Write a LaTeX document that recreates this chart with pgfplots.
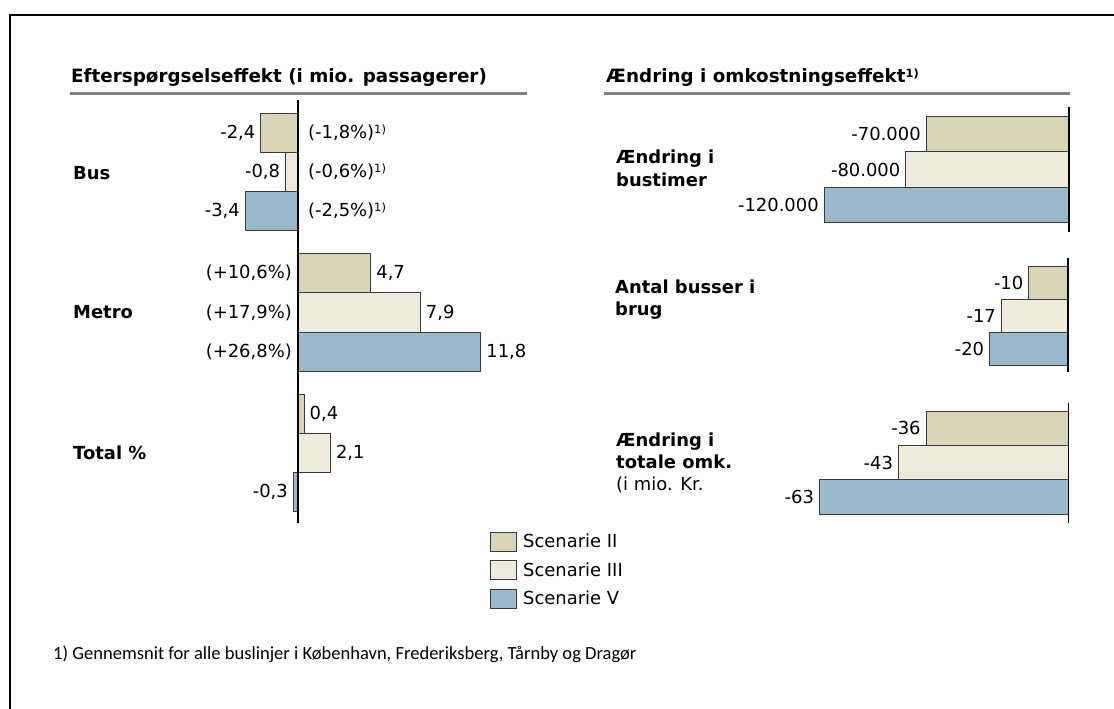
\documentclass[border=0pt]{standalone}
\usepackage{fontspec}
\setmainfont{DejaVu Sans}
\newfontfamily\notefont{Carlito}
\usepackage{pgfplots}
\pgfplotsset{compat=1.18}

\definecolor{scenII}{HTML}{D9D4B7}
\definecolor{scenIII}{HTML}{EEEBDC}
\definecolor{scenV}{HTML}{9AB9CA}
\definecolor{bardraw}{HTML}{3A3A3A}
\definecolor{rulegray}{HTML}{7F7F7F}

\newcommand\lbl{\fontsize{18}{22}\selectfont}
\newcommand\ttl{\fontsize{18.4}{22}\selectfont\bfseries}
\newcommand\fn{\raisebox{5bp}{\fontsize{11.5}{11.5}\selectfont 1)}}

\pgfplotsset{
  valbar/.style={xbar, bar shift=0pt, draw=bardraw, line width=1bp,
    nodes near coords, nodes near coords align={horizontal}, point meta=x},
  panel/.style={scale only axis, hide axis, clip=false, anchor=south west,
    every node near coord/.append style={font=\lbl, text=black, inner sep=5bp}},
}

\begin{document}
\begin{tikzpicture}
\path[use as bounding box] (0,0) rectangle (1114bp,709bp);
\draw[line width=2bp] (10bp,-2bp) -- (10bp,694bp) -- (1116bp,694bp);

% titles and rules
\node[anchor=base west, inner sep=0pt, font=\ttl] at (71bp,626bp)
  {Efterspørgselseffekt (i mio. passagerer)};
\node[anchor=base west, inner sep=0pt, font=\ttl] at (606bp,626bp)
  {Ændring i omkostningseffekt\raisebox{5bp}{\fontsize{11.5}{11.5}\selectfont 1)}};
\draw[rulegray, line width=3bp] (70bp,615bp) -- (527bp,615bp);
\draw[rulegray, line width=3bp] (604bp,615bp) -- (1070bp,615bp);

% category labels
\node[anchor=west, inner sep=0pt, font=\lbl\bfseries] at (73bp,536bp) {Bus};
\node[anchor=west, inner sep=0pt, font=\lbl\bfseries] at (73bp,396.5bp) {Metro};
\node[anchor=west, inner sep=0pt, font=\lbl\bfseries] at (73bp,256bp) {Total \%};
\node[anchor=base west, inner sep=0pt, font=\lbl\bfseries] at (616bp,545.5bp) {Ændring i};
\node[anchor=base west, inner sep=0pt, font=\lbl\bfseries] at (616bp,522bp) {bustimer};
\node[anchor=base west, inner sep=0pt, font=\lbl\bfseries] at (615bp,415bp) {Antal busser i};
\node[anchor=base west, inner sep=0pt, font=\lbl\bfseries] at (615bp,393bp) {brug};
\node[anchor=base west, inner sep=0pt, font=\lbl\bfseries] at (616bp,262bp) {Ændring i};
\node[anchor=base west, inner sep=0pt, font=\lbl\bfseries] at (616bp,240bp) {totale omk.};
\node[anchor=base west, inner sep=0pt, font=\lbl] at (616bp,218bp) {(i mio. Kr.};

% footnote
\node[anchor=base west, inner sep=0pt, font=\notefont\fontsize{18.6}{21}\selectfont]
  at (53bp,49bp) {1)\ Gennemsnit for alle buslinjer i København, Frederiksberg, Tårnby og Dragør};

% left panel: demand effect (mio. passengers); y: Bus=3, Metro=2, Total=1, bars 0.28 apart
\begin{axis}[panel, at={(236bp,186bp)}, width=248bp, height=423bp,
  xmin=-4, xmax=12, ymin=0.5018, ymax=3.5125, bar width=0.2797,
  /pgf/number format/use comma, /pgf/number format/fixed,
  /pgf/number format/fixed zerofill, /pgf/number format/precision=1,
  /pgf/number format/assume math mode=true,
  legend style={at={(1.0222,-0.0201)}, anchor=north west, draw=none, fill=none,
    inner sep=0pt, row sep=8.5bp, font=\lbl, nodes={inner sep=0pt},
    /tikz/every odd column/.append style={column sep=6.5bp}},
  legend cell align=left,
  legend image code/.code={\draw[#1] (0bp,-9.5bp) rectangle (26bp,9.5bp);},
]
\addplot[valbar, fill=scenII] coordinates {(-2.4,3.2797) (4.7,2.2797) (0.4,1.2797)};
\addlegendentry{Scenarie II}
\addplot[valbar, fill=scenIII] coordinates {(-0.8,3) (7.9,2) (2.1,1)};
\addlegendentry{Scenarie III}
\addplot[valbar, fill=scenV] coordinates {(-3.4,2.7203) (11.8,1.7203) (-0.3,0.7203)};
\addlegendentry{Scenarie V}
% percentage changes
\addplot[draw=none, forget plot, nodes near coords, point meta=explicit symbolic,
  every node near coord/.append style={anchor=west, xshift=10bp, inner sep=0pt, font=\lbl}]
  coordinates {(0,3.2797) [(-1,8\%)\fn] (0,3) [(-0,6\%)\fn] (0,2.7203) [(-2,5\%)\fn]};
\addplot[draw=none, forget plot, nodes near coords, point meta=explicit symbolic,
  every node near coord/.append style={anchor=east, xshift=-6bp, inner sep=0pt, font=\lbl}]
  coordinates {(0,2.2797) [(+10,6\%)] (0,2) [(+17,9\%)] (0,1.7203) [(+26,8\%)]};
\draw[line width=1.3bp] (axis cs:0,0.5018) -- (axis cs:0,3.5125);
\end{axis}

% right panel: change in bus hours
\begin{axis}[panel, at={(803.8bp,477.3bp)}, width=265.2bp, height=125bp,
  xmin=-130000, xmax=0, ymin=-0.749, ymax=2.772, bar width=1,
  /pgf/number format/use comma, /pgf/number format/fixed,
  /pgf/number format/precision=0, /pgf/number format/assume math mode=true]
\addplot[valbar, fill=scenII] coordinates {(-70000,2)};
\addplot[valbar, fill=scenIII] coordinates {(-80000,1)};
\addplot[valbar, fill=scenV] coordinates {(-120000,0)};
\draw[line width=1.3bp] (axis cs:0,-0.749) -- (axis cs:0,2.772);
\end{axis}

% right panel: buses in use
\begin{axis}[panel, at={(970bp,337.3bp)}, width=98bp, height=113.7bp,
  xmin=-25, xmax=0, ymin=-0.682, ymax=2.764, bar width=1,
  /pgf/number format/fixed, /pgf/number format/precision=0,
  /pgf/number format/assume math mode=true]
\addplot[valbar, fill=scenII] coordinates {(-10,2)};
\addplot[valbar, fill=scenIII] coordinates {(-17,1)};
\addplot[valbar, fill=scenV] coordinates {(-20,0)};
\draw[line width=1.3bp] (axis cs:0,-0.682) -- (axis cs:0,2.764);
\end{axis}

% right panel: total costs (mio. kr.)
\begin{axis}[panel, at={(791.8bp,186bp)}, width=276.5bp, height=120bp,
  xmin=-70, xmax=0, ymin=-0.761, ymax=2.738, bar width=1,
  /pgf/number format/fixed, /pgf/number format/precision=0,
  /pgf/number format/assume math mode=true]
\addplot[valbar, fill=scenII] coordinates {(-36,2)};
\addplot[valbar, fill=scenIII] coordinates {(-43,1)};
\addplot[valbar, fill=scenV] coordinates {(-63,0)};
\draw[line width=1.3bp] (axis cs:0,-0.761) -- (axis cs:0,2.738);
\end{axis}
\end{tikzpicture}
\end{document}
